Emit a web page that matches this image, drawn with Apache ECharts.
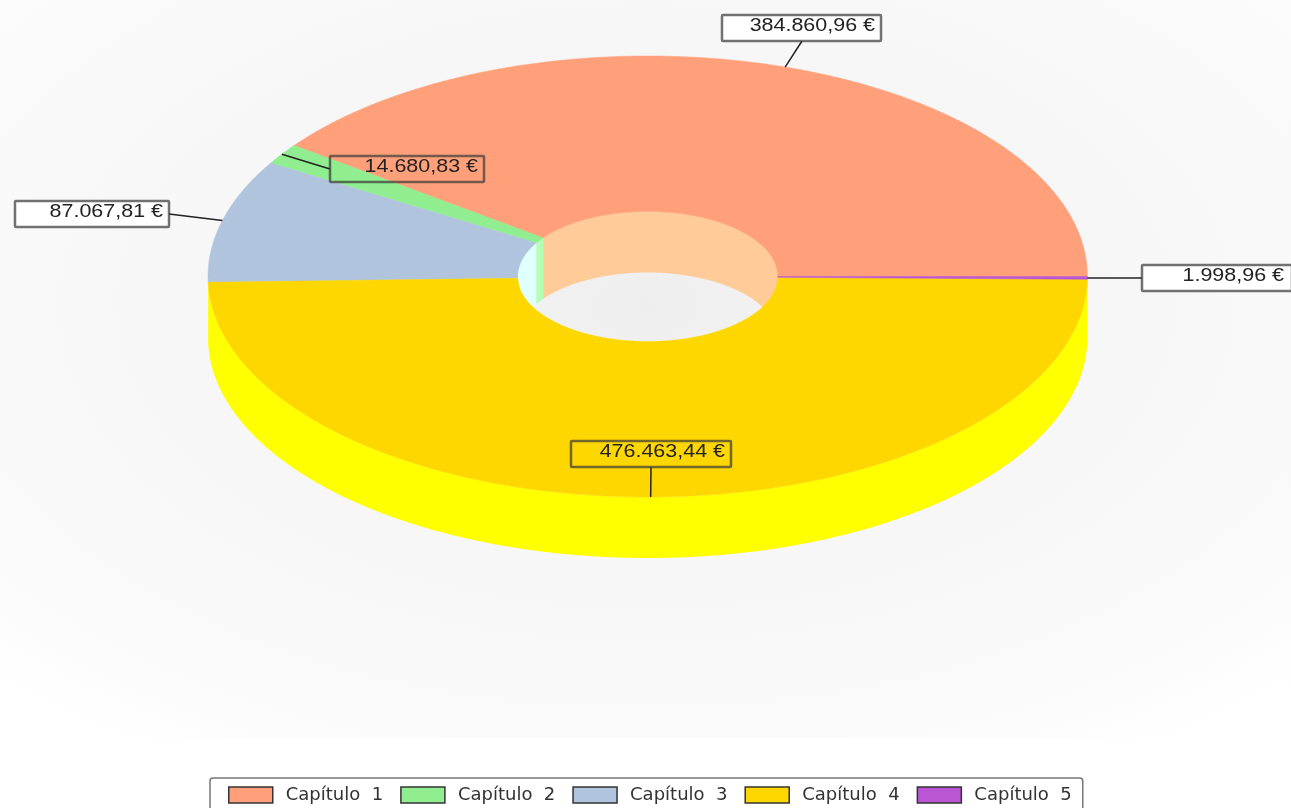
<!DOCTYPE html>
<html><head><meta charset="utf-8">
<style>html,body{margin:0;padding:0;background:#fff;overflow:hidden}#c{width:1291px;height:808px}</style>
<script src="https://cdn.jsdelivr.net/npm/echarts@6/dist/echarts.min.js"></script>
</head><body><div id="c"></div>
<script>
const categories = ['Capítulo 1','Capítulo 2','Capítulo 3','Capítulo 4','Capítulo 5'];
const amounts = [384860.96, 14680.83, 87067.81, 476463.44, 1998.96];
const amountLabels = ['384.860,96 €','14.680,83 €','87.067,81 €','476.463,44 €','1.998,96 €'];

// styling and layout, separate from the values
const topColors = ['#FFA07A','#90EE90','#B0C4DE','#FFD700','#BA55D3'];
const wallColors = ['#FFCC99','#B4FFB4','#E0FFFF','#FFFF00','#FF99FF'];
const calloutBoxes = [
  {x0:722,x1:881,y0:15,y1:41,lx:802,ly:41},
  {x0:330,x1:484,y0:156,y1:182,lx:330,ly:169},
  {x0:15,x1:169,y0:201,y1:227,lx:169,ly:214},
  {x0:571,x1:731,y0:441,y1:467,lx:651,ly:467},
  {x0:1142,x1:1292,y0:265,y1:291,lx:1142,ly:278}
];
const G = {cx:647.7, cy:276.5, rx:439.7, ry:220.5, irx:130, iry:65, depth:61};

const total = amounts.reduce((a,b)=>a+b,0);
const rad = d => d*Math.PI/180;
const pt = (rx,ry,deg,dy=0) => [G.cx+rx*Math.cos(rad(deg)), G.cy-ry*Math.sin(rad(deg))+dy];
function arc(rx,ry,a,b,dy=0){
  const n=Math.max(2,Math.ceil(Math.abs(b-a)/0.25)), p=[];
  for(let i=0;i<=n;i++) p.push(pt(rx,ry,a+(b-a)*i/n,dy));
  return p;
}
let acc=0;
const spans = amounts.map(v=>{const s=acc/total*360; acc+=v; return [s,acc/total*360];});

function wallShapes(a0,a1,color){
  const out=[];
  // outer wall: only the front half (180..360) faces the viewer
  const oa=Math.max(a0,180), ob=Math.min(a1,360);
  if(ob>oa) out.push({type:'polygon',silent:true,
    shape:{points:arc(G.rx,G.ry,oa,ob).concat(arc(G.rx,G.ry,ob,oa,G.depth))},style:{fill:color}});
  // hole wall: only the far side faces the viewer
  const ib=Math.min(a1,185);
  if(ib>a0) out.push({type:'polygon',silent:true,
    shape:{points:arc(G.irx,G.iry,a0,ib).concat(arc(G.irx,G.iry,ib,a0,G.depth))},style:{fill:color}});
  return out;
}
function topShape(a0,a1,color){
  return {type:'polygon',silent:true,
    shape:{points:arc(G.rx,G.ry,a0,a1).concat(arc(G.irx,G.iry,a1,a0))},
    style:{fill:color,stroke:color,lineWidth:0.5}};
}
function calloutShapes(i){
  const [a0,a1]=spans[i], rim=pt(G.rx,G.ry,(a0+a1)/2), b=calloutBoxes[i];
  return [
    {type:'line',silent:true,shape:{x1:rim[0],y1:rim[1],x2:b.lx,y2:b.ly},style:{stroke:'#222',lineWidth:1.5}},
    {type:'rect',silent:true,shape:{x:b.x0,y:b.y0,width:b.x1-b.x0,height:b.y1-b.y0,r:1},
      style:{fill:(i===1||i===3)?'transparent':'#fff',stroke:'rgba(60,60,60,0.72)',lineWidth:2.5}},
    {type:'text',silent:true,x:Math.min(b.x1,1290)-6,y:(b.y0+b.y1)/2-2,scaleX:1.13,
      style:{text:amountLabels[i],fill:'#222',font:'19px "Liberation Sans"',align:'right',verticalAlign:'middle'}}
  ];
}
const layer = (i,z,extra,children) => Object.assign({
  type:'custom', coordinateSystem:'none', silent:true, animation:false, z,
  data:[[amounts[i]]],
  renderItem(){ return {type:'group',children:children()}; }
},extra);
const wallSeries = categories.map((n,i)=>layer(i,1,{},()=>wallShapes(spans[i][0],spans[i][1],wallColors[i])));
const topSeries = categories.map((n,i)=>layer(i,2,{name:n,itemStyle:{color:topColors[i]}},()=>[topShape(spans[i][0],spans[i][1],topColors[i])]));
const calloutSeries = categories.map((n,i)=>layer(i,3,{},()=>calloutShapes(i)));

const chart = echarts.init(document.getElementById('c'),null,{renderer:'canvas'});
chart.setOption({
  animation:false,
  backgroundColor:'#fff',
  graphic:[{type:'group',silent:true,z:-1,children:[
    {type:'rect',silent:true,scaleX:1291/738,shape:{x:0,y:0,width:738,height:738},
     style:{fill:new echarts.graphic.RadialGradient(0.5,0.415,0.72,[
      {offset:0,color:'#eeeeee'},{offset:0.15,color:'#f2f2f2'},{offset:0.5,color:'#f7f7f7'},{offset:0.8,color:'#fafafa'},{offset:1,color:'#ffffff'}])}}
  ]}],
  legend:{
    left:210, top:778, width:873, height:40, padding:[8,11,8,18],
    itemWidth:44, itemHeight:16, itemGap:17,
    borderColor:'#777', borderWidth:1.5, borderRadius:3, backgroundColor:'#fff',
    icon:'rect', selectedMode:false,
    itemStyle:{borderColor:'#333',borderWidth:1.5},
    formatter:n=>n.replace(' ','  '),
    textStyle:{color:'#333',fontSize:18,fontFamily:'DejaVu Sans',padding:[0,0,0,8]},
    data:categories
  },
  series:[...wallSeries,...topSeries,...calloutSeries]
});
</script></body></html>
